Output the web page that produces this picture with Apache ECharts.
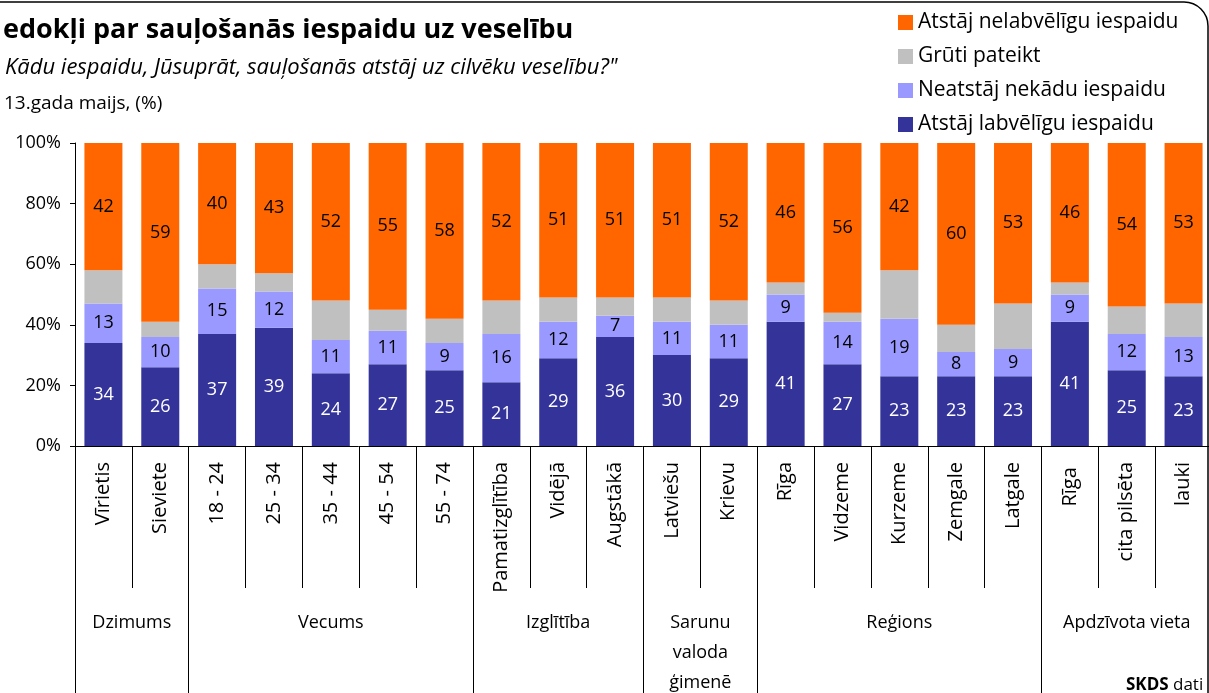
<!DOCTYPE html>
<html>
<head>
<meta charset="utf-8">
<script src="https://cdn.jsdelivr.net/npm/echarts@6/dist/echarts.min.js"></script>
<style>
  html, body { margin: 0; padding: 0; background: #fff; }
  #chart { width: 1209px; height: 693px; }
</style>
</head>
<body>
<div id="chart"></div>
<script>
const categories = ['Vīrietis', 'Sieviete', '18 - 24', '25 - 34', '35 - 44', '45 - 54', '55 - 74',
  'Pamatizglītība', 'Vidējā', 'Augstākā', 'Latviešu', 'Krievu',
  'Rīga', 'Vidzeme', 'Kurzeme', 'Zemgale', 'Latgale', 'Rīga ', 'cita pilsēta', 'lauki'];

const seriesNames = ['Atstāj labvēlīgu iespaidu', 'Neatstāj nekādu iespaidu', 'Grūti pateikt', 'Atstāj nelabvēlīgu iespaidu'];

const positive = [34, 26, 37, 39, 24, 27, 25, 21, 29, 36, 30, 29, 41, 27, 23, 23, 23, 41, 25, 23];
const noEffect = [13, 10, 15, 12, 11, 11, 9, 16, 12, 7, 11, 11, 9, 14, 19, 8, 9, 9, 12, 13];
const hardToSay = [11, 5, 8, 6, 13, 7, 8, 11, 8, 6, 8, 8, 4, 3, 16, 9, 15, 4, 9, 11];
const negative = [42, 59, 40, 43, 52, 55, 58, 52, 51, 51, 51, 52, 46, 56, 42, 60, 53, 46, 54, 53];

const groupNames = ['Dzimums', 'Vecums', 'Izglītība', 'Sarunu\nvaloda\nģimenē', 'Reģions', 'Apdzīvota vieta'];
const groupStarts = [0, 2, 7, 10, 12, 17];
const groupEnds = [2, 7, 10, 12, 17, 20];

const yTicks = [0, 20, 40, 60, 80, 100];

const titleText = 'edokļi par sauļošanās iespaidu uz veselību';
const subtitleText = 'Kādu iespaidu, Jūsuprāt, sauļošanās atstāj uz cilvēku veselību?"';
const dateText = '13.gada maijs, (%)';

const colors = ['#333399', '#9999FF', '#C0C0C0', '#FF6600'];
const FONT = '"Open Sans", "Noto Sans", sans-serif';

const groupCenters = {};
groupNames.forEach((g, i) => { groupCenters[((groupStarts[i] + groupEnds[i]) / 2).toFixed(1)] = g; });

const chart = echarts.init(document.getElementById('chart'), null, { renderer: 'canvas' });

function labelCfg(color) {
  return { show: true, position: 'inside', color: color, fontFamily: FONT, fontSize: 18 };
}

const option = {
  animation: false,
  backgroundColor: '#fff',
  textStyle: { fontFamily: FONT },
  title: [
    { text: titleText, left: -2, top: 12, textStyle: { fontFamily: FONT, fontSize: 27, fontWeight: 'bold', color: '#000' } },
    { text: subtitleText, left: 0, top: 52, textStyle: { fontFamily: FONT, fontSize: 22, fontStyle: 'italic', fontWeight: 'normal', color: '#000' } },
    { text: dateText, left: -1, top: 89, textStyle: { fontFamily: FONT, fontSize: 19, fontWeight: 'normal', color: '#000' } },
    { text: '{b|SKDS} dati', left: 1121, top: 672, textStyle: { fontFamily: FONT, fontSize: 17, fontWeight: 'normal', color: '#000', rich: { b: { fontFamily: FONT, fontSize: 17, fontWeight: 'bold', color: '#000' } } } }
  ],
  graphic: [
    { type: 'rect', shape: { x: -30, y: 2, width: 1238, height: 900, r: 24 }, style: { fill: 'none', stroke: '#000', lineWidth: 1.5 }, silent: true, z: -1 }
  ],
  legend: {
    orient: 'vertical',
    left: 893,
    top: 7,
    itemWidth: 15,
    itemHeight: 15,
    itemGap: 13,
    icon: 'rect',
    data: [seriesNames[3], seriesNames[2], seriesNames[1], seriesNames[0]],
    textStyle: { fontFamily: FONT, fontSize: 21, color: '#000', lineHeight: 21 }
  },
  grid: { left: 75, top: 143, width: 1137, height: 303, containLabel: false, outerBoundsMode: 'none' },
  xAxis: [
    {
      type: 'category',
      data: categories,
      position: 'bottom',
      axisLine: { show: true, lineStyle: { color: '#000', width: 1 } },
      axisTick: { show: true, interval: 0, length: 142, lineStyle: { color: '#000', width: 1 } },
      axisLabel: { show: true, interval: 0, rotate: 90, margin: 16, color: '#000', fontFamily: FONT, fontSize: 20 }
    },
    {
      type: 'category',
      data: categories,
      position: 'bottom',
      axisLine: { show: false },
      axisTick: {
        show: true, length: 260,
        interval: function (index) { return groupStarts.indexOf(index) >= 0; },
        lineStyle: { color: '#000', width: 1 }
      },
      axisLabel: { show: false }
    },
    {
      type: 'value',
      min: 0, max: categories.length, interval: 0.5,
      position: 'bottom',
      offset: 162,
      axisLine: { show: false },
      axisTick: { show: false },
      splitLine: { show: false },
      axisLabel: {
        show: true, margin: 0, color: '#000', fontFamily: FONT, fontSize: 18, lineHeight: 30,
        showMinLabel: true, showMaxLabel: true,
        formatter: function (v) { return groupCenters[v.toFixed(1)] || ''; }
      }
    }
  ],
  yAxis: {
    type: 'value',
    min: yTicks[0], max: yTicks[yTicks.length - 1], interval: 20,
    axisLine: { show: true, lineStyle: { color: '#000', width: 1 } },
    axisTick: { show: true, length: 5, lineStyle: { color: '#000' } },
    splitLine: { show: false },
    axisLabel: { formatter: '{value}%', color: '#000', fontFamily: FONT, fontSize: 18, margin: 14 }
  },
  series: [
    { name: seriesNames[0], type: 'bar', stack: 'total', data: positive, barWidth: 38, itemStyle: { color: colors[0] }, label: labelCfg('#fff') },
    { name: seriesNames[1], type: 'bar', stack: 'total', data: noEffect, barWidth: 38, itemStyle: { color: colors[1] }, label: labelCfg('#000') },
    { name: seriesNames[2], type: 'bar', stack: 'total', data: hardToSay, barWidth: 38, itemStyle: { color: colors[2] }, label: { show: false } },
    { name: seriesNames[3], type: 'bar', stack: 'total', data: negative, barWidth: 38, itemStyle: { color: colors[3] }, label: labelCfg('#000') }
  ]
};

chart.setOption(option);
</script>
</body>
</html>
